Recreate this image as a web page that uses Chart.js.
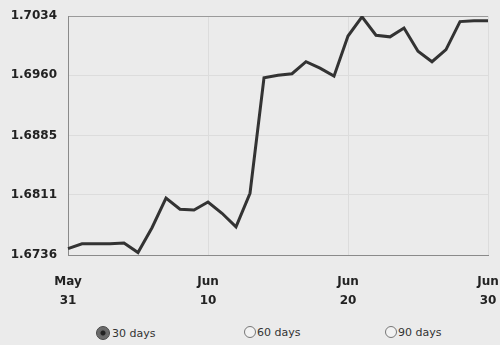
<!DOCTYPE html>
<html>
<head>
<meta charset="UTF-8">
<title>Rate - 30 days</title>
<script src="https://cdn.jsdelivr.net/npm/chart.js"></script>
<style>
    html, body {
        margin: 0;
        padding: 0;
        background: #ebebeb;
        font-family: 'DejaVu Sans', Arial, sans-serif;
    }
    .wrap {
        position: relative;
        width: 500px;
        height: 345px;
    }
    canvas {
        position: absolute;
        left: 0;
        top: 0;
    }
    .opt {
        position: absolute;
        top: 326px;
        font-size: 11px;
        color: #333;
        line-height: 14px;
        white-space: nowrap;
    }
    .dot {
        display: inline-block;
        width: 12px;
        height: 12px;
        border-radius: 50%;
        border: 1px solid #777;
        box-sizing: border-box;
        vertical-align: -2px;
        margin-right: 1px;
        background: #f2f2f2;
    }
    .dot.on {
        background: radial-gradient(circle, #222 0, #222 2px, #666 3px, #777 100%);
        border-color: #444;
        width: 14px;
        height: 14px;
        vertical-align: -3px;
        margin-right: 2px;
    }
</style>
</head>
<body>
<div class="wrap">
    <canvas id="rateChart" width="500" height="315"></canvas>
    <div class="opt" style="left:96px"><span class="dot on"></span>30 days</div>
    <div class="opt" style="left:244px"><span class="dot"></span>60 days</div>
    <div class="opt" style="left:385px"><span class="dot"></span>90 days</div>
</div>

<script>
    // one point per day, May 31 .. Jun 30
    const days = ['May 31'];
    for (let d = 1; d <= 30; d++) days.push('Jun ' + d);

    const rates = [
        1.6744, 1.6750, 1.6750, 1.6750, 1.6751, 1.6739, 1.6770, 1.6807,
        1.6793, 1.6792, 1.6802, 1.6788, 1.6771, 1.6813, 1.6957, 1.6960,
        1.6962, 1.6977, 1.6969, 1.6959, 1.7009, 1.7033, 1.7010, 1.7008,
        1.7019, 1.6990, 1.6977, 1.6992, 1.7027, 1.7028, 1.7028
    ];

    const yTicks = [1.6736, 1.6811, 1.6885, 1.6960, 1.7034];
    const labelEvery = 10;

    const tickFont = { family: "'DejaVu Sans', Arial, sans-serif", size: 12, weight: 'bold', lineHeight: 1.6 };

    new Chart(document.getElementById('rateChart'), {
        type: 'line',
        data: {
            labels: days,
            datasets: [{
                data: rates,
                borderColor: '#333333',
                borderWidth: 3,
                pointRadius: 0,
                tension: 0,
                fill: false
            }]
        },
        options: {
            responsive: false,
            animation: false,
            layout: { padding: { top: 16, right: 12, left: 0, bottom: 0 } },
            plugins: { legend: { display: false }, tooltip: { enabled: false } },
            scales: {
                x: {
                    grid: {
                        drawTicks: false,
                        color: ctx => ctx.index === days.length - 1 ? '#9a9a9a' : '#dcdcdc'
                    },
                    border: { color: '#8a8a8a', width: 1 },
                    afterFit: scale => {
                        scale.height = 60;
                        scale.paddingLeft = 0;
                        scale.paddingRight = 0;
                    },
                    ticks: {
                        autoSkip: false,
                        maxRotation: 0,
                        padding: 17,
                        color: '#222',
                        font: tickFont,
                        callback: (val, i) => i % labelEvery === 0 ? days[i].split(' ') : null
                    }
                },
                y: {
                    min: yTicks[0],
                    max: yTicks[yTicks.length - 1],
                    afterBuildTicks: scale => { scale.ticks = yTicks.map(v => ({ value: v })); },
                    afterFit: scale => {
                        scale.width = 68;
                        scale.paddingTop = 0;
                        scale.paddingBottom = 0;
                    },
                    grid: {
                        drawTicks: false,
                        color: ctx => ctx.index === yTicks.length - 1 ? '#9a9a9a' : '#dcdcdc'
                    },
                    border: { color: '#8a8a8a', width: 1 },
                    ticks: {
                        padding: 11,
                        color: '#222',
                        font: tickFont,
                        callback: v => v.toFixed(4)
                    }
                }
            }
        }
    });
</script>
</body>
</html>
